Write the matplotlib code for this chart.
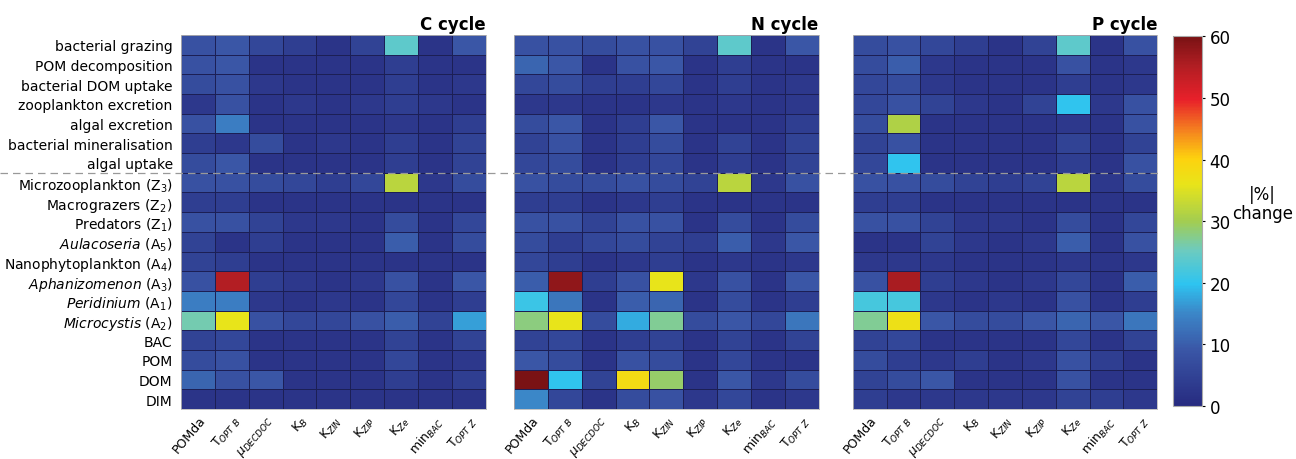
import numpy as np
import matplotlib
matplotlib.use("Agg")
import matplotlib.pyplot as plt
from matplotlib.colors import LinearSegmentedColormap
from matplotlib.lines import Line2D

# row labels (top to bottom)
rows = ["bacterial grazing", "POM decomposition", "bacterial DOM uptake",
        "zooplankton excretion", "algal excretion", "bacterial mineralisation",
        "algal uptake", "Microzooplankton (Z$_3$)", "Macrograzers (Z$_2$)",
        "Predators (Z$_1$)", r"$\mathit{Aulacoseria}$ (A$_5$)",
        "Nanophytoplankton (A$_4$)", r"$\mathit{Aphanizomenon}$ (A$_3$)",
        r"$\mathit{Peridinium}$ (A$_1$)", r"$\mathit{Microcystis}$ (A$_2$)",
        "BAC", "POM", "DOM", "DIM"]

params = ["POMda", r"T$_{OPT\ B}$", r"$\mu_{DECDOC}$", "K$_B$", "K$_{ZIN}$",
          "K$_{ZIP}$", "K$_{Ze}$", "min$_{BAC}$", r"T$_{OPT\ Z}$"]

cycles = ["C cycle", "N cycle", "P cycle"]

# |%| change, rows x params
c_cycle = [
    [8, 9, 6, 4, 2, 5, 24, 2, 9],
    [8, 9, 2, 2, 2, 2, 4, 2, 2],
    [7, 8, 3, 2, 2, 2, 4, 2, 3],
    [3, 8, 2, 3, 2, 3, 4, 3, 2],
    [8, 14, 2, 2, 2, 2, 3, 2, 4],
    [4, 3, 7, 2, 3, 2, 4, 2, 5],
    [7, 9, 2, 2, 2, 2, 4, 2, 5],
    [8, 8, 7, 6, 4, 6, 32, 3, 7],
    [4, 4, 2, 2, 2, 2, 2, 2, 2],
    [8, 8, 5, 3, 3, 2, 7, 2, 6],
    [5, 2, 4, 2, 2, 2, 10, 2, 7],
    [5, 4, 2, 2, 2, 2, 2, 2, 2],
    [8, 55, 4, 3, 2, 3, 8, 2, 9],
    [14, 14, 3, 2, 3, 2, 6, 2, 4],
    [26, 36, 8, 6, 6, 8, 10, 5, 17],
    [5, 6, 2, 2, 2, 2, 5, 2, 5],
    [7, 8, 2, 2, 2, 2, 6, 2, 3],
    [11, 8, 9, 2, 2, 2, 4, 2, 4],
    [2, 2, 2, 2, 2, 2, 2, 2, 2],
]

n_cycle = [
    [8, 8, 7, 8, 8, 5, 24, 2, 9],
    [11, 9, 2, 8, 9, 2, 4, 2, 2],
    [6, 7, 4, 4, 6, 2, 4, 2, 3],
    [3, 3, 2, 2, 3, 2, 3, 2, 3],
    [7, 9, 2, 4, 9, 2, 2, 2, 4],
    [5, 8, 2, 4, 7, 2, 5, 2, 5],
    [6, 7, 2, 4, 6, 2, 4, 2, 5],
    [8, 7, 7, 8, 7, 5, 32, 3, 8],
    [4, 4, 2, 3, 4, 2, 2, 2, 2],
    [8, 8, 5, 8, 8, 2, 7, 2, 7],
    [7, 4, 6, 7, 5, 4, 10, 3, 9],
    [6, 4, 2, 3, 4, 2, 3, 2, 3],
    [10, 58, 4, 8, 36, 3, 8, 2, 9],
    [21, 13, 2, 10, 11, 2, 7, 2, 4],
    [28, 36, 7, 18, 27, 7, 9, 6, 13],
    [5, 6, 2, 4, 5, 2, 5, 2, 5],
    [9, 7, 2, 8, 7, 2, 6, 2, 2],
    [60, 20, 5, 38, 29, 2, 9, 3, 7],
    [15, 6, 2, 7, 8, 3, 6, 2, 3],
]

p_cycle = [
    [7, 8, 6, 4, 2, 5, 24, 2, 8],
    [7, 10, 3, 2, 2, 2, 8, 2, 3],
    [6, 7, 3, 2, 2, 2, 4, 2, 3],
    [6, 8, 5, 3, 2, 5, 20, 3, 8],
    [7, 31, 2, 2, 2, 2, 3, 2, 8],
    [5, 8, 2, 2, 2, 2, 5, 2, 5],
    [6, 20, 2, 2, 2, 2, 4, 2, 8],
    [8, 8, 7, 5, 4, 5, 32, 3, 7],
    [4, 4, 2, 2, 2, 2, 2, 2, 2],
    [8, 8, 5, 3, 3, 2, 7, 2, 6],
    [2, 2, 5, 3, 2, 3, 10, 2, 8],
    [3, 3, 3, 2, 2, 2, 3, 2, 3],
    [8, 56, 4, 3, 2, 3, 6, 2, 10],
    [22, 22, 3, 2, 3, 2, 8, 2, 4],
    [27, 37, 9, 7, 7, 9, 11, 9, 13],
    [5, 6, 2, 2, 2, 2, 6, 2, 5],
    [7, 4, 3, 4, 2, 3, 8, 4, 2],
    [5, 7, 9, 2, 2, 2, 8, 2, 2],
    [4, 3, 3, 3, 3, 3, 5, 4, 3],
]

cmap = LinearSegmentedColormap.from_list("pct", [
    (0.00, "#272b80"), (0.15, "#3a56a6"), (0.25, "#3b86c8"),
    (0.33, "#2ec4f0"), (0.42, "#6ccbc0"), (0.50, "#a3cd50"),
    (0.60, "#e8e41a"), (0.67, "#fdd20e"), (0.75, "#f47d20"),
    (0.83, "#e8202a"), (0.92, "#b21e23"), (1.00, "#7a1214")])

fig = plt.figure(figsize=(12.96, 4.6), dpi=100)

lefts = [0.1397, 0.3966, 0.658]
for i, (name, data) in enumerate(zip(cycles, [c_cycle, n_cycle, p_cycle])):
    ax = fig.add_axes([lefts[i], 0.1087, 0.235, 0.813])
    mesh = ax.pcolormesh(np.array(data, dtype=float), cmap=cmap, vmin=0, vmax=60,
                         edgecolors="#1c1f55", linewidth=0.4)
    ax.set_ylim(len(rows), 0)
    ax.set_xlim(0, len(params))
    ax.set_xticks(np.arange(len(params)) + 0.5)
    ax.set_xticklabels(params, rotation=50, ha="right", rotation_mode="anchor",
                       fontsize=9)
    ax.set_yticks(np.arange(len(rows)) + 0.5)
    if i == 0:
        ax.set_yticklabels(rows, fontsize=10)
    else:
        ax.set_yticklabels([])
    ax.tick_params(axis="y", length=0, pad=6)
    ax.tick_params(axis="x", length=0, pad=3)
    for s in ax.spines.values():
        s.set_color("#bbbbbb")
        s.set_linewidth(0.6)
    ax.set_title(name, loc="right", fontsize=12, fontweight="bold", pad=4)

cax = fig.add_axes([0.905, 0.115, 0.0224, 0.804])
cb = fig.colorbar(mesh, cax=cax, ticks=range(0, 61, 10))
cb.ax.tick_params(labelsize=12, length=2)
cb.outline.set_edgecolor("#aaaaaa")
fig.text(0.974, 0.555, "|%|\nchange", ha="center", va="center", fontsize=12,
         linespacing=1.1)

# dashed separator between processes and state variables
fig.add_artist(Line2D([0.0, 0.895], [1 - 174 / 460, 1 - 174 / 460],
                      transform=fig.transFigure, color="#999999",
                      linestyle=(0, (6, 4)), linewidth=0.9))

fig.savefig("out.png", dpi=100)
